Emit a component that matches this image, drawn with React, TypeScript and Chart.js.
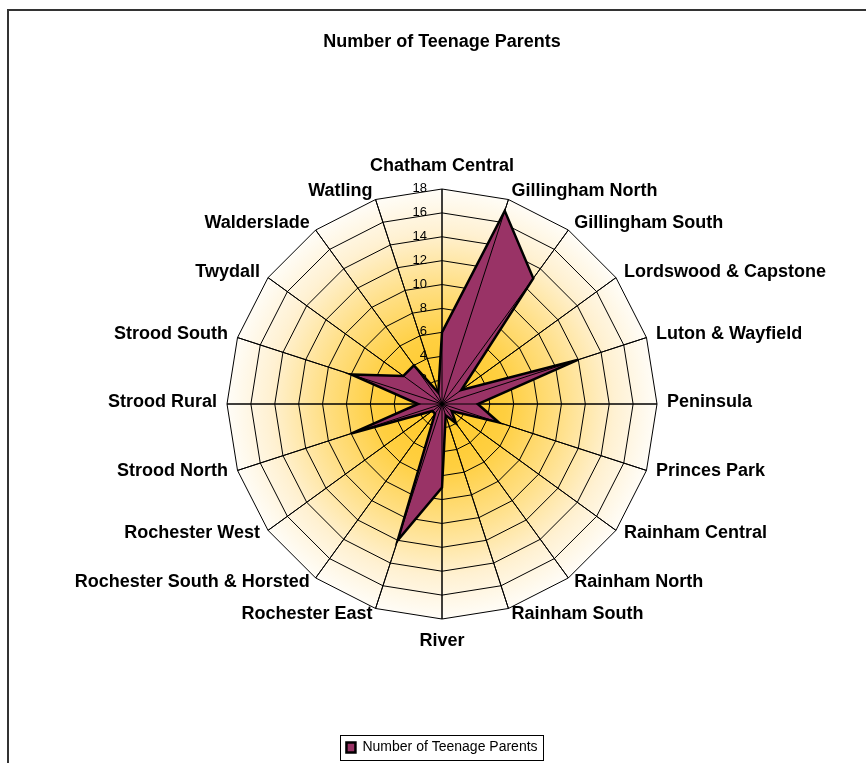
import React, { useEffect, useRef } from "react";
import { Chart, registerables } from "chart.js";

Chart.register(...registerables);

const chartTitle = "Number of Teenage Parents";
const seriesName = "Number of Teenage Parents";
const categories = [
  "Chatham Central",
  "Gillingham North",
  "Gillingham South",
  "Lordswood & Capstone",
  "Luton & Wayfield",
  "Peninsula",
  "Princes Park",
  "Rainham Central",
  "Rainham North",
  "Rainham South",
  "River",
  "Rochester East",
  "Rochester South & Horsted",
  "Rochester West",
  "Strood North",
  "Strood Rural",
  "Strood South",
  "Twydall",
  "Walderslade",
  "Watling",
];
const teenageParents = [6, 17, 13, 2, 12, 3, 5, 1, 2, 1, 7, 12, 1, 1, 8, 2, 8, 4, 4, 1];
const axisMin = 0;
const axisMax = 18;
const axisStep = 2;
const tickLabels = ["0", "2", "4", "6", "8", "10", "12", "14", "16", "18"];

const FONT = '"Liberation Sans", Arial, Helvetica, sans-serif';

const radarBackground = {
  id: "radarBackground",
  beforeDraw(chart: any) {
    const s = chart.scales.r;
    const ctx = chart.ctx;
    const n = chart.data.labels.length;
    const R = s.drawingArea;
    const g = ctx.createRadialGradient(s.xCenter, s.yCenter, 0, s.xCenter, s.yCenter, R);
    g.addColorStop(0, "#FFC822");
    g.addColorStop(0.3, "#FFCF40");
    g.addColorStop(0.55, "#FFDF85");
    g.addColorStop(0.8, "#FFF1D2");
    g.addColorStop(1, "#FFFDF8");
    ctx.save();
    ctx.beginPath();
    for (let i = 0; i < n; i++) {
      const p = s.getPointPosition(i, R);
      if (i === 0) ctx.moveTo(p.x, p.y);
      else ctx.lineTo(p.x, p.y);
    }
    ctx.closePath();
    ctx.fillStyle = g;
    ctx.fill();
    ctx.restore();
  },
};

const tickLabelPlugin = {
  id: "tickLabelsLeft",
  beforeDatasetsDraw(chart: any) {
    const s = chart.scales.r;
    const ctx = chart.ctx;
    ctx.save();
    ctx.font = `13px ${FONT}`;
    ctx.fillStyle = "#000";
    ctx.textAlign = "right";
    ctx.textBaseline = "middle";
    s.ticks.forEach((t: any) => {
      const d = s.getDistanceFromCenterForValue(t.value);
      ctx.fillText(String(t.label), s.xCenter - 15, s.yCenter - d - 0.5);
    });
    ctx.restore();
  },
};

const angleLinesOnTop = {
  id: "angleLinesOnTop",
  afterDatasetsDraw(chart: any) {
    const s = chart.scales.r;
    const ctx = chart.ctx;
    const n = chart.data.labels.length;
    ctx.save();
    ctx.strokeStyle = "#000";
    ctx.lineWidth = 1;
    for (let i = 0; i < n; i++) {
      const p = s.getPointPosition(i, s.drawingArea);
      ctx.beginPath();
      ctx.moveTo(s.xCenter, s.yCenter);
      ctx.lineTo(p.x, p.y);
      ctx.stroke();
    }
    ctx.restore();
  },
};

const pointLabelPlugin = {
  id: "pointLabelsCustom",
  afterDraw(chart: any) {
    const s = chart.scales.r;
    const ctx = chart.ctx;
    const R = s.drawingArea;
    const labels = chart.data.labels as string[];
    ctx.save();
    ctx.font = `bold 18px ${FONT}`;
    ctx.fillStyle = "#000";
    ctx.textBaseline = "middle";
    labels.forEach((lab, i) => {
      const deg = Math.round((s.getIndexAngle(i) * 180) / Math.PI) % 360;
      if (deg === 0 || deg === 180) {
        const p = s.getPointPosition(i, R + 22.5);
        ctx.textAlign = "center";
        ctx.fillText(lab, p.x, p.y);
      } else {
        const px = s.getPointPosition(i, R + 10);
        const py = s.getPointPosition(i, R + 7);
        ctx.textAlign = deg < 180 ? "left" : "right";
        ctx.fillText(lab, px.x, py.y - 1.5);
      }
    });
    ctx.restore();
  },
};

const legendBorder = {
  id: "legendBorder",
  afterDraw(chart: any) {
    const hb = chart.legend && chart.legend.legendHitBoxes && chart.legend.legendHitBoxes[0];
    if (!hb) return;
    const ctx = chart.ctx;
    ctx.save();
    ctx.strokeStyle = "#000";
    ctx.lineWidth = 1;
    ctx.strokeRect(Math.round(hb.left - 6) + 0.5, Math.round(hb.top - 6) + 0.5, Math.round(hb.width + 12), 25);
    ctx.restore();
  },
};

export default function App() {
  const ref = useRef<HTMLCanvasElement>(null);

  useEffect(() => {
    if (!ref.current) return;
    const chart = new Chart(ref.current, {
      type: "radar",
      data: {
        labels: categories,
        datasets: [
          {
            label: seriesName,
            data: teenageParents,
            backgroundColor: "#993366",
            borderColor: "#000000",
            borderWidth: 2.5,
            pointRadius: 0,
            pointHoverRadius: 0,
            fill: true,
            tension: 0,
          },
        ],
      },
      options: {
        responsive: false,
        animation: false,
        events: [],
        layout: { padding: { left: 1, right: 0, top: 0, bottom: 5.5 } },
        scales: {
          r: {
            min: axisMin,
            max: axisMax,
            beginAtZero: true,
            ticks: {
              stepSize: axisStep,
              display: false,
              callback: (_v: any, i: number) => tickLabels[i],
            },
            grid: { color: "#000", lineWidth: 1, circular: false },
            angleLines: { display: true, color: "#000", lineWidth: 1 },
            pointLabels: { display: false },
          },
        },
        plugins: {
          tooltip: { enabled: false },
          title: {
            display: true,
            text: chartTitle,
            color: "#000",
            font: { family: FONT, size: 18, weight: "bold" },
            padding: { top: 21.2, bottom: 136.2 },
          },
          legend: {
            display: true,
            position: "bottom",
            labels: {
              color: "#000",
              font: { family: FONT, size: 14 },
              boxWidth: 9,
              boxHeight: 10,
              padding: 121,
            },
          },
        },
      },
      plugins: [radarBackground, tickLabelPlugin, angleLinesOnTop, pointLabelPlugin, legendBorder],
    } as any);
    return () => chart.destroy();
  }, []);

  return (
    <div
      style={{
        position: "fixed",
        left: 0,
        top: 0,
        width: 866,
        height: 763,
        overflow: "hidden",
        background: "#fff",
      }}
    >
      <div
        style={{
          position: "absolute",
          left: 7,
          top: 9,
          width: 900,
          height: 900,
          borderLeft: "2px solid #333",
          borderTop: "2px solid #333",
        }}
      />
      <canvas
        ref={ref}
        width={869}
        height={760}
        style={{ position: "absolute", left: 7, top: 10, width: 869, height: 760 }}
      />
    </div>
  );
}
